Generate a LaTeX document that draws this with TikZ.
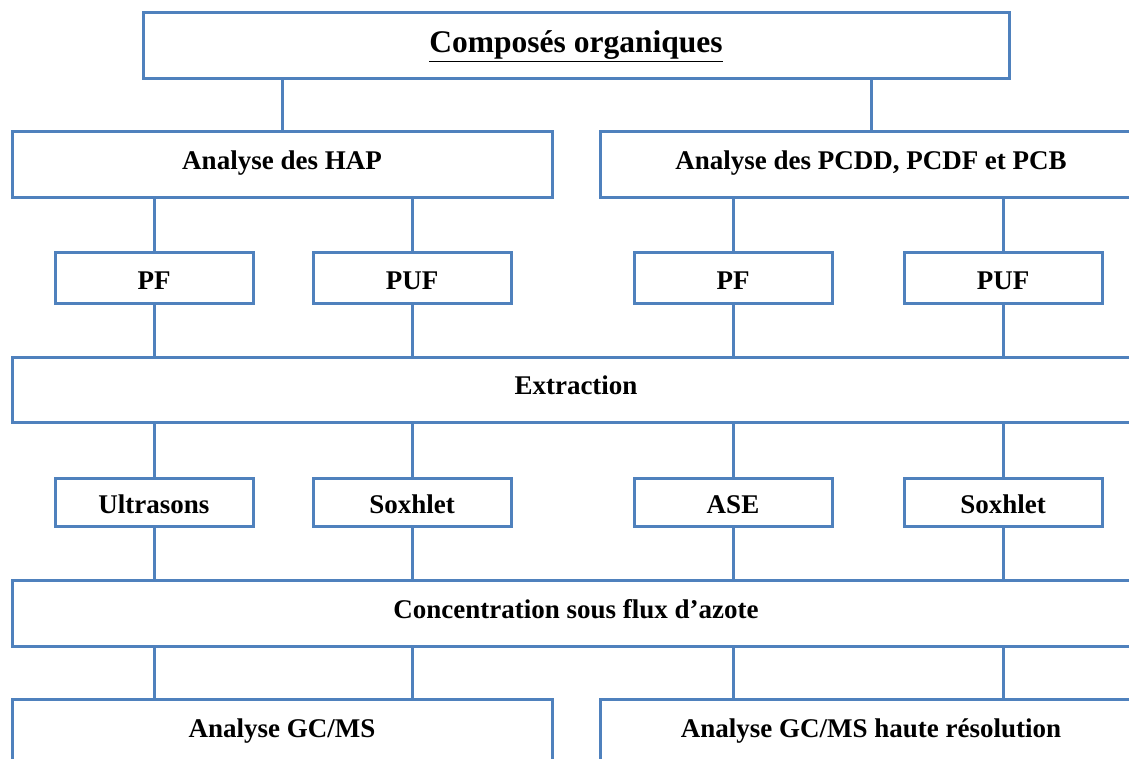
\documentclass[tikz,border=0pt]{standalone}
\usepackage{fontspec}
\setmainfont{Liberation Serif}
\usepackage{tikz}
\usetikzlibrary{positioning}
\definecolor{boxblue}{HTML}{4F81BD}

\begin{document}
\begin{tikzpicture}[x=1pt,y=-1pt,
    box/.style={draw=boxblue,line width=3pt,fill=white,inner sep=0pt,
      font=\fontsize{27}{30}\selectfont\bfseries},
    wide/.style={box,minimum height=66pt,text height=18pt,text depth=8pt},
    small/.style={box,minimum width=198pt,text height=23pt,text depth=0pt},
    link/.style={draw=boxblue,line width=3pt}]
    \useasboundingbox (0,0) rectangle (1129,759);
    \clip (0,0) rectangle (1129,759);
    % top level
    \node[wide,minimum width=866pt,text height=21pt,text depth=7pt,
      font=\fontsize{31.5}{34}\selectfont\bfseries] (comp) at (576,46)
      {\underline{Composés organiques}};
    \node[wide,minimum width=540pt] (hap) at (282,165) {Analyse des HAP};
    \node[wide,minimum width=542pt] (pcdd) at (871,165) {Analyse des PCDD, PCDF et PCB};
    % supports
    \node[small,minimum height=50pt] (pfa) at (154,278) {PF};
    \node[small,minimum height=50pt] (pufa) at (412,278) {PUF};
    \node[small,minimum height=50pt] (pfb) at (733,278) {PF};
    \node[small,minimum height=50pt] (pufb) at (1003,278) {PUF};
    \node[wide,minimum width=1128pt,minimum height=65pt] (extr) at (576,389.5) {Extraction};
    % extraction methods
    \node[small,minimum height=48pt] (ultra) at (154,502) {Ultrasons};
    \node[small,minimum height=48pt] (soxa) at (412,502) {Soxhlet};
    \node[small,minimum height=48pt] (ase) at (733,502) {ASE};
    \node[small,minimum height=48pt] (soxb) at (1003,502) {Soxhlet};
    \node[wide,minimum width=1128pt] (conc) at (576,613) {Concentration sous flux d’azote};
    % analysis
    \node[wide,minimum width=540pt] (gcms) at (282,732) {Analyse GC/MS};
    \node[wide,minimum width=542pt] (hres) at (871,732) {Analyse GC/MS haute résolution};

    \draw[link] (hap.north) -- (hap.north |- comp.south);
    \draw[link] (pcdd.north) -- (pcdd.north |- comp.south);
    \draw[link] (pfa.north) -- (pfa.north |- hap.south);
    \draw[link] (pufa.north) -- (pufa.north |- hap.south);
    \draw[link] (pfb.north) -- (pfb.north |- pcdd.south);
    \draw[link] (pufb.north) -- (pufb.north |- pcdd.south);
    \draw[link] (pfa.south) -- (pfa.south |- extr.north);
    \draw[link] (pufa.south) -- (pufa.south |- extr.north);
    \draw[link] (pfb.south) -- (pfb.south |- extr.north);
    \draw[link] (pufb.south) -- (pufb.south |- extr.north);
    \draw[link] (ultra.north) -- (ultra.north |- extr.south);
    \draw[link] (soxa.north) -- (soxa.north |- extr.south);
    \draw[link] (ase.north) -- (ase.north |- extr.south);
    \draw[link] (soxb.north) -- (soxb.north |- extr.south);
    \draw[link] (ultra.south) -- (ultra.south |- conc.north);
    \draw[link] (soxa.south) -- (soxa.south |- conc.north);
    \draw[link] (ase.south) -- (ase.south |- conc.north);
    \draw[link] (soxb.south) -- (soxb.south |- conc.north);
    \draw[link] (ultra.south |- conc.south) -- (ultra.south |- gcms.north);
    \draw[link] (soxa.south |- conc.south) -- (soxa.south |- gcms.north);
    \draw[link] (ase.south |- conc.south) -- (ase.south |- hres.north);
    \draw[link] (soxb.south |- conc.south) -- (soxb.south |- hres.north);
  \end{tikzpicture}
\end{document}
